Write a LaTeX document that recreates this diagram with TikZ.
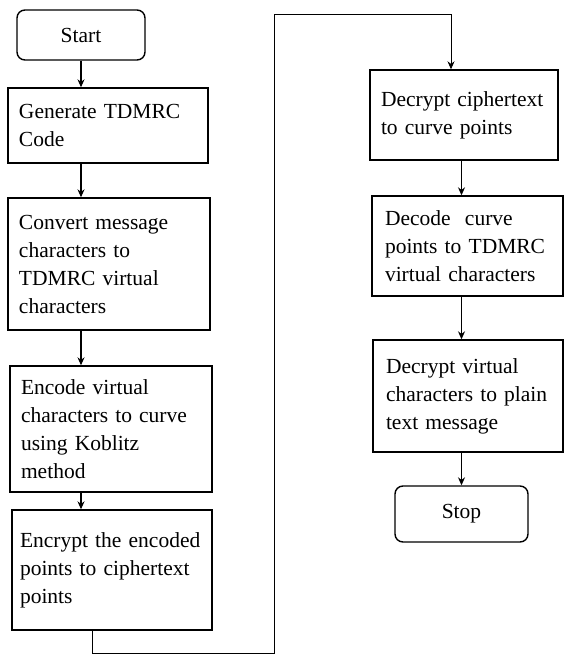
\documentclass[tikz,border=0pt]{standalone}
\usepackage{fontspec}
\setmainfont{Liberation Serif}
\usetikzlibrary{arrows.meta,positioning,calc}

\tikzset{
  stepbox/.style={draw, line width=1.4pt, align=left, inner xsep=11pt,
    font=\fontsize{21.5}{28}\selectfont},
  termbox/.style={draw, line width=1.4pt, rounded corners=8pt,
    font=\fontsize{21.5}{28}\selectfont},
  arr/.style={line width=1.1pt, -{Stealth[length=8pt,width=7pt]}}
}

\begin{document}
\begin{tikzpicture}[x=1pt, y=1pt]
         \useasboundingbox (0,0) rectangle (564,-656);

         % Define nodes
         \node[termbox, minimum width=128pt, minimum height=50pt] (start) at (81,-35) {Start};
         \node[stepbox, text width=178pt, minimum height=75pt] (gen) at (108,-125.5)
           {Generate TDMRC\\Code};
         \node[stepbox, text width=180pt, minimum height=132pt] (conv) at (109,-264)
           {Convert message\\characters to\\TDMRC virtual\\characters};
         \node[stepbox, text width=180pt, minimum height=126pt] (enc) at (111,-429)
           {Encode virtual\\characters to curve\\using Koblitz\\method};
         \node[stepbox, inner xsep=8pt, text width=184pt, minimum height=120pt] (encr) at (112,-570)
           {Encrypt the encoded\\points to ciphertext\\points};
         \node[stepbox, inner xsep=11pt, text width=166pt, minimum height=90pt] (dec) at (464,-115)
           {Decrypt ciphertext\\to curve points};
         \node[stepbox, inner xsep=13pt, text width=165pt, minimum height=100pt] (deco) at (467.5,-246)
           {Decode~ curve\\points to TDMRC\\virtual characters};
         \node[stepbox, inner xsep=13pt, text width=164pt, minimum height=112pt] (decv) at (468,-396)
           {Decrypt virtual\\characters to plain\\text message};
         \node[termbox, minimum width=133pt, minimum height=56pt] (stop) at (461.5,-514) {Stop};

         % Route between the columns
         \coordinate (bend1) at (92,-653);
         \coordinate (bend2) at (274,-653);
         \coordinate (bend3) at (274,-14);
         \coordinate (bend4) at (451,-14);

         % Draw edges
         \draw[arr] (start.south) -- (start.south |- gen.north);
         \draw[arr] (gen.south -| start) -- (conv.north -| start);
         \draw[arr] (conv.south -| start) -- (enc.north -| start);
         \draw[arr] (enc.south -| start) -- (encr.north -| start);
         \draw[arr, line width=0.8pt] (encr.south -| bend1) -- (bend1) -- (bend2) -- (bend3) -- (bend4) -- (dec.north -| bend4);
         \draw[arr] (dec.south -| stop) -- (deco.north -| stop);
         \draw[arr] (deco.south -| stop) -- (decv.north -| stop);
         \draw[arr] (decv.south -| stop) -- (stop.north);
      \end{tikzpicture}
\end{document}
